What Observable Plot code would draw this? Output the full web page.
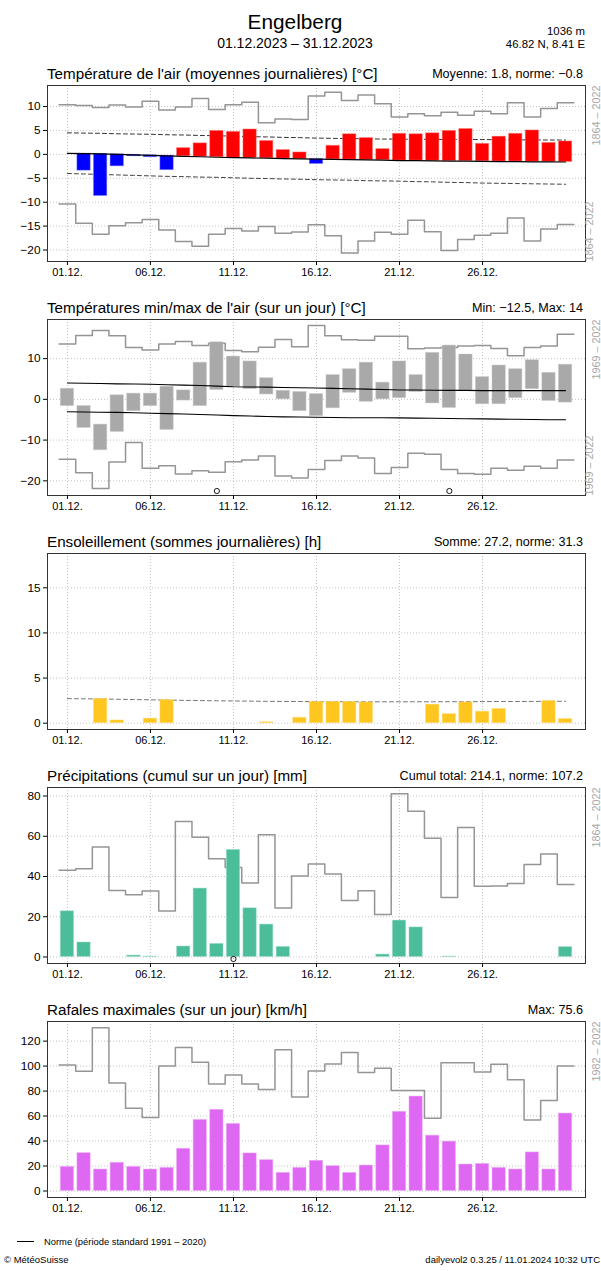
<!DOCTYPE html>
<html><head><meta charset="utf-8">
<script src="https://cdn.jsdelivr.net/npm/d3@7"></script>
<script src="https://cdn.jsdelivr.net/npm/@observablehq/plot@0.6"></script>
<style>
body{margin:0;background:#fff;font-family:"Liberation Sans",Arial,Helvetica,sans-serif;}
#page{position:relative;width:601px;height:1271px;overflow:hidden;background:#fff;}
.abs{position:absolute;white-space:nowrap;color:#000;}
.ptitle{font-size:15.2px;height:20px;line-height:20px;left:47px;}
.pstat{font-size:12.6px;height:20px;line-height:20px;right:18px;text-align:right;}
.plot{position:absolute;left:0;}
</style></head><body><div id="page"></div>
<script>
// ---------- data ----------
const days = [1,2,3,4,5,6,7,8,9,10,11,12,13,14,15,16,17,18,19,20,21,22,23,24,25,26,27,28,29,30,31];
const xTickDays = [1,6,11,16,21,26];
const xTickLabels = ["01.12.","06.12.","11.12.","16.12.","21.12.","26.12."];

// Panel 1: daily mean temperature
const tempMean = [0.2,-3.4,-8.7,-2.5,-0.4,-0.6,-3.3,1.3,2.3,4.9,4.7,5.2,2.8,0.9,0.4,-2.0,1.8,4.2,3.4,1.1,4.3,4.2,4.4,4.9,5.3,2.2,3.7,4.3,5.0,2.4,2.7];
const tempNorm = [0.2,0.15,0.1,0.0,-0.1,-0.2,-0.3,-0.4,-0.5,-0.6,-0.7,-0.75,-0.8,-0.9,-0.95,-1.0,-1.05,-1.1,-1.15,-1.2,-1.3,-1.3,-1.35,-1.4,-1.4,-1.45,-1.5,-1.5,-1.55,-1.55,-1.6];
const tempUpperDash = [4.5,4.45,4.4,4.3,4.25,4.2,4.1,4.05,3.95,3.9,3.8,3.7,3.65,3.55,3.5,3.4,3.35,3.3,3.25,3.2,3.2,3.15,3.15,3.1,3.1,3.1,3.05,3.05,3.0,3.0,3.0];
const tempLowerDash = [-4.0,-4.1,-4.2,-4.3,-4.4,-4.5,-4.6,-4.65,-4.75,-4.8,-4.9,-5.0,-5.05,-5.15,-5.2,-5.3,-5.35,-5.4,-5.5,-5.55,-5.6,-5.7,-5.75,-5.85,-5.9,-6.0,-6.05,-6.1,-6.15,-6.2,-6.25];
const tempRecMax = [10.4,10.2,9.8,10.3,9.9,11.1,9.3,9.9,11.7,9.4,10.4,10.9,6.6,7.4,7.3,12.2,13.0,11.25,12.4,10.6,7.8,8.5,8.1,8.8,8.2,9.0,8.5,10.8,7.8,9.6,10.8];
const tempRecMin = [-10.4,-14.4,-16.7,-14.9,-14.3,-13.6,-15.8,-18.2,-19.2,-16.7,-15.5,-16.0,-15.1,-16.5,-16.25,-14.7,-17.0,-20.6,-18.1,-16.3,-16.7,-13.75,-16.2,-20.1,-17.8,-16.9,-16.5,-13.3,-18.1,-15.6,-14.65];

// Panel 2: daily min / max temperature
const tDayMax = [2.6,-1.65,-6.2,1.0,1.4,1.4,3.1,2.2,9.0,14.0,10.5,9.3,5.2,2.1,1.8,1.3,5.95,7.4,9.0,4.1,9.3,5.95,11.4,13.2,11.0,5.45,8.3,7.4,9.6,6.5,8.5];
const tDayMin = [-1.65,-7.0,-12.5,-8.0,-2.9,-1.65,-7.5,-0.3,-1.65,2.3,3.1,2.5,1.2,0.0,-2.9,-4.1,-2.2,1.6,-0.6,0.0,0.3,1.8,-1.0,-2.1,2.2,-1.2,-1.2,0.3,2.5,-0.4,-0.8];
const tMaxNorm = [4.0,3.95,3.9,3.8,3.75,3.7,3.6,3.5,3.4,3.25,3.1,3.05,3.0,2.9,2.85,2.8,2.7,2.6,2.5,2.4,2.3,2.3,2.25,2.2,2.2,2.15,2.15,2.15,2.15,2.15,2.15];
const tMinNorm = [-3.05,-3.1,-3.15,-3.2,-3.3,-3.4,-3.5,-3.6,-3.7,-3.85,-4.0,-4.1,-4.2,-4.3,-4.35,-4.4,-4.45,-4.5,-4.5,-4.5,-4.55,-4.6,-4.65,-4.7,-4.75,-4.8,-4.85,-4.9,-4.95,-5.0,-5.0];
const tMaxRec = [13.6,15.7,16.9,15.6,12.7,12.1,13.6,14.2,13.2,13.8,12.0,11.7,12.8,14.7,12.9,18.1,15.6,14.6,14.5,15.5,15.5,12.4,12.6,12.7,13.1,13.2,12.5,10.7,12.7,13.1,15.95];
const tMinRec = [-14.7,-18.0,-21.9,-15.4,-10.6,-16.9,-16.3,-18.3,-17.5,-17.9,-15.3,-14.9,-13.9,-18.8,-19.3,-17.2,-15.0,-13.9,-14.4,-18.2,-16.7,-13.2,-13.5,-17.2,-18.2,-18.4,-16.9,-17.4,-16.4,-16.9,-14.9];
const tMarkDays = [10,24];
const tMarkVals = [-22.5,-22.5];

// Panel 3: sunshine
const sun = [0,0,2.7,0.3,0,0.5,2.55,0,0,0,0,0,0.1,0,0.6,2.35,2.35,2.35,2.3,0,0,0,2.05,1.0,2.3,1.27,1.57,0,0,2.45,0.45];
const sunDash = [2.72,2.7,2.68,2.65,2.62,2.59,2.56,2.53,2.5,2.48,2.46,2.44,2.42,2.41,2.4,2.39,2.38,2.38,2.37,2.37,2.37,2.37,2.37,2.38,2.38,2.39,2.4,2.4,2.41,2.42,2.43];

// Panel 4: precipitation
const precip = [22.7,7.2,0,0,0.7,0.2,0,5.2,34.0,6.5,53.2,24.2,16.1,5.0,0,0,0,0,0,1.2,18.1,14.7,0,0.2,0,0,0,0,0,0,4.9];
const precipRec = [43.1,43.8,54.7,33.1,30.9,32.8,22.9,67.4,59.5,48.8,44.5,36.8,60.7,24.4,40.3,46.2,41.3,28.1,32.9,21.1,81.1,72.4,59.0,29.6,64.4,35.1,35.3,36.5,46.0,51.2,36.0];
const pMarkDays = [11];
const pMarkVals = [-1.0];

// Panel 5: gusts
const gust = [19.3,30.3,17.2,22.6,19.3,17.2,18.5,33.8,56.9,65.0,53.7,30.1,24.7,14.5,18.5,24.2,19.9,14.5,20.4,36.5,63.4,75.6,44.3,39.5,21.2,21.7,18.5,17.2,30.9,17.2,62.0];
const gustRec = [100.9,95.8,130.7,86.4,66.3,58.8,100.1,114.9,103.1,85.6,92.9,85.6,81.3,113.0,75.2,96.1,101.7,110.9,94.8,98.3,80.5,80.5,58.3,102.6,102.6,95.3,101.5,89.1,56.9,72.5,100.1];

// Texts
const mainTitle = "Engelberg";
const subTitle = "01.12.2023 – 31.12.2023";
const stationInfo = ["1036 m","46.82 N, 8.41 E"];
const panelTitles = ["Température de l'air (moyennes journalières) [°C]","Températures min/max de l'air (sur un jour) [°C]","Ensoleillement (sommes journalières) [h]","Précipitations (cumul sur un jour) [mm]","Rafales maximales (sur un jour) [km/h]"];
const panelStats = ["Moyenne: 1.8, norme: −0.8","Min: −12.5, Max: 14","Somme: 27.2, norme: 31.3","Cumul total: 214.1, norme: 107.2","Max: 75.6"];
const periodLabels = [["1864 – 2022","1864 – 2022"],["1969 – 2022","1969 – 2022"],[null,null],["1864 – 2022",null],["1982 – 2022",null]];
const yTicksList = [[10,5,0,-5,-10,-15,-20],[10,0,-10,-20],[0,5,10,15],[0,20,40,60,80],[0,20,40,60,80,100,120]];
const yDomains = [[-22.4,14.4],[-23.6,19.6],[-0.7,18.8],[-3.24,84.24],[-5.2,135.7]];
const legendText = "Norme (période standard 1991 – 2020)";
const footerLeft = "© MétéoSuisse";
const footerRight = "dailyevol2 0.3.25 / 11.01.2024 10:32 UTC";

// colours
const RED="#ff0000", BLUE="#0000ff", GREYBAR="#a9a9a9", SUN="#ffc620", RAIN="#4bbd9a", GUST="#df68f3", STEP="#959595";

// ---------- helpers ----------
const page = document.getElementById("page");
function addDiv(cls, text, style){const d=document.createElement("div");d.className="abs "+cls;d.textContent=text;Object.assign(d.style,style);page.appendChild(d);return d;}
function table(cols){return days.map((d,i)=>{const o={day:d};for(const k in cols)o[k]=cols[k][i];return o;});}
function stepData(vals){const pts=days.map((d,i)=>({x:d-0.5,y:vals[i]}));pts.push({x:days[days.length-1]+0.5,y:vals[vals.length-1]});return pts;}
function stepLine(vals){return Plot.line(stepData(vals),{x:"x",y:"y",curve:"step-after",stroke:STEP,strokeWidth:1.5});}
function smoothLine(vals,opts){return Plot.line(table({v:vals}),{x:"day",y:"v",...opts});}
function bars(rows,y1,y2,fill,stroke){return Plot.rectY(rows,{x1:d=>d.day-0.4,x2:d=>d.day+0.4,y1,y2,fill,stroke:stroke||"none",strokeWidth:0.8,strokeOpacity:0.6});}

const frameTops=[85,319,553,787,1021];
const FRAME_H=176, MT=4, MB=26;

function panel(i, marks){
  const top=frameTops[i];
  addDiv("ptitle",panelTitles[i],{top:(top-21)+"px"});
  addDiv("pstat",panelStats[i],{top:(top-21)+"px"});
  const yt=yTicksList[i];
  const extra=[];
  const [up,low]=periodLabels[i];
  if(up) extra.push(Plot.text([up],{text:d=>d,frameAnchor:"top-right",rotate:-90,textAnchor:"end",dx:7,fill:"#a8a8a8",fontSize:10.8}));
  if(low) extra.push(Plot.text([low],{text:d=>d,frameAnchor:"bottom-right",rotate:-90,textAnchor:"start",dx:7,fill:"#a8a8a8",fontSize:10.8}));
  const svg=Plot.plot({
    width:601,height:MT+FRAME_H+MB,marginTop:MT,marginBottom:MB,marginLeft:47,marginRight:16,
    style:{fontFamily:"'Liberation Sans',Arial,sans-serif",fontSize:"11.5px",color:"#000",background:"transparent",overflow:"visible"},
    x:{type:"linear",domain:[-0.2,32.2]},
    y:{domain:yDomains[i]},
    marks:[
      Plot.gridX(xTickDays,{stroke:"#c4c4c4",strokeOpacity:1,strokeDasharray:"1,2"}),
      Plot.gridY(yt,{stroke:"#c4c4c4",strokeOpacity:1,strokeDasharray:"1,2"}),
      ...marks,
      Plot.frame({stroke:"#333",strokeWidth:1}),
      Plot.axisX(xTickDays,{label:null,tickSize:4,tickPadding:3,fontSize:11,tickFormat:d=>xTickLabels[xTickDays.indexOf(d)]}),
      Plot.axisY(yt,{label:null,tickSize:4,tickPadding:3,fontSize:11.8}),
      ...extra
    ]
  });
  svg.classList.add("plot");
  svg.style.top=(top-MT)+"px";
  page.appendChild(svg);
}

// ---------- header ----------
addDiv("",mainTitle,{left:"0px",width:"590px",textAlign:"center",top:"9px",fontSize:"20.8px",lineHeight:"26px"});
addDiv("",subTitle,{left:"0px",width:"590px",textAlign:"center",top:"34px",fontSize:"14px",lineHeight:"18px"});
addDiv("",stationInfo[0],{right:"16px",textAlign:"right",top:"24px",fontSize:"11.4px",lineHeight:"14px"});
addDiv("",stationInfo[1],{right:"16px",textAlign:"right",top:"37px",fontSize:"11.4px",lineHeight:"14px"});

// ---------- panel 1 ----------
const t1=table({v:tempMean,n:tempNorm});
panel(0,[
  stepLine(tempRecMax), stepLine(tempRecMin),
  smoothLine(tempUpperDash,{stroke:"#333",strokeWidth:1,strokeDasharray:"4,3"}),
  smoothLine(tempLowerDash,{stroke:"#444",strokeWidth:1,strokeDasharray:"4,3"}),
  bars(t1.filter(d=>d.v>=d.n),"n","v",RED,"#ff7777"),
  bars(t1.filter(d=>d.v<d.n),"n","v",BLUE,"#7777ff"),
  smoothLine(tempNorm,{stroke:"#000",strokeWidth:1.2})
]);

// ---------- panel 2 ----------
const t2=table({lo:tDayMin,hi:tDayMax});
panel(1,[
  stepLine(tMaxRec), stepLine(tMinRec),
  bars(t2,"lo","hi",GREYBAR,"#c8c8c8"),
  smoothLine(tMaxNorm,{stroke:"#000",strokeWidth:1.1}),
  smoothLine(tMinNorm,{stroke:"#000",strokeWidth:1.1}),
  Plot.dot(tMarkDays.map((d,i)=>({day:d,v:tMarkVals[i]})),{x:"day",y:"v",r:2.6,stroke:"#000",fill:"none",strokeWidth:0.9})
]);

// ---------- panel 3 ----------
panel(2,[
  smoothLine(sunDash,{stroke:"#777",strokeWidth:1,strokeDasharray:"4,3"}),
  bars(table({v:sun}).filter(d=>d.v>0),0,"v",SUN,"#ffd86a")
]);

// ---------- panel 4 ----------
panel(3,[
  stepLine(precipRec),
  bars(table({v:precip}).filter(d=>d.v>0),0,"v",RAIN,"#9fdcc8"),
  Plot.dot(pMarkDays.map((d,i)=>({day:d,v:pMarkVals[i]})),{x:"day",y:"v",r:2.6,stroke:"#000",fill:"none",strokeWidth:0.9})
]);

// ---------- panel 5 ----------
panel(4,[
  stepLine(gustRec),
  bars(table({v:gust}),0,"v",GUST,"#eeaaf8")
]);

// ---------- legend & footer ----------
const lg=document.createElement("div");lg.className="abs";Object.assign(lg.style,{left:"17px",top:"1241px",width:"17px",borderTop:"1px solid #000"});page.appendChild(lg);
addDiv("",legendText,{left:"44px",top:"1235px",fontSize:"9.4px",lineHeight:"13px"});
addDiv("",footerLeft,{left:"4px",top:"1253px",fontSize:"9.5px",lineHeight:"13px"});
addDiv("",footerRight,{right:"1px",textAlign:"right",top:"1253px",fontSize:"9.5px",lineHeight:"13px"});
</script></body></html>
